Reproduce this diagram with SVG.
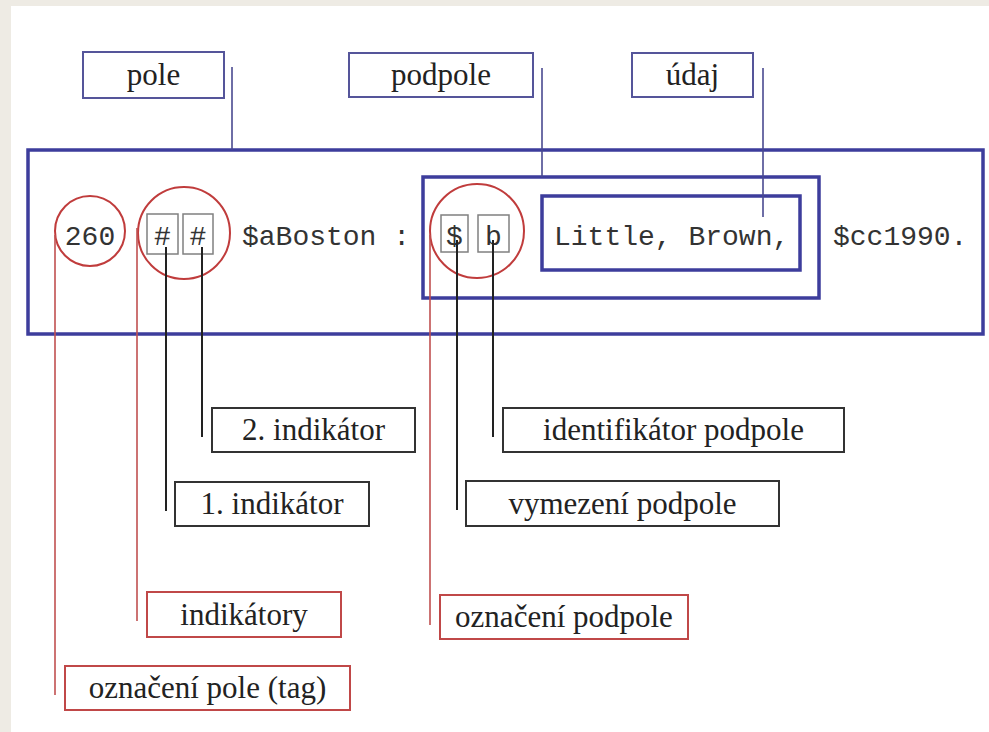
<svg xmlns="http://www.w3.org/2000/svg" width="989" height="732" viewBox="0 0 989 732">
<style>
.lbl{font-family:"Liberation Serif","Times New Roman",serif;font-size:31px;fill:#222;text-anchor:middle}
.mono{font-family:"Liberation Mono","Courier New",monospace;font-size:28px;fill:#333}
.bb{fill:#fff;stroke:#55559a;stroke-width:2}
.kb{fill:#fff;stroke:#333;stroke-width:2}
.rb{fill:#fff;stroke:#c04848;stroke-width:2}
.big{fill:none;stroke:#3d3d9c;stroke-width:3.5}
.sq{fill:none;stroke:#808080;stroke-width:1.5}
.circ{fill:none;stroke:#c03c3c;stroke-width:2}
.lb{stroke:#4a4a90;stroke-width:1.6}
.lk{stroke:#222;stroke-width:2}
.lr{stroke:#c05050;stroke-width:1.6}
</style>
<rect x="0" y="0" width="989" height="732" fill="#eeebe4"/>
<rect x="11" y="6" width="978" height="726" fill="#fff"/>

<g id="record">
<rect class="big" x="28" y="150" width="955" height="184"/>
<text class="mono" x="90" y="245" text-anchor="middle">260</text>
<rect class="sq" x="147" y="214" width="31" height="40"/>
<rect class="sq" x="183" y="214" width="30" height="40"/>
<text class="mono" x="162.5" y="245" text-anchor="middle">#</text>
<text class="mono" x="198" y="245" text-anchor="middle">#</text>
<text class="mono" x="242" y="245">$aBoston :</text>
<text class="mono" x="833" y="245">$cc1990.</text>
</g>
<g id="subfield">
<rect class="big" x="423" y="177" width="396" height="121"/>
<rect class="sq" x="441" y="215" width="27" height="37"/>
<rect class="sq" x="478" y="215" width="31" height="37"/>
<text class="mono" x="454.5" y="245" text-anchor="middle">$</text>
<text class="mono" x="493.5" y="245" text-anchor="middle">b</text>
</g>
<g id="data">
<rect class="big" x="542" y="196" width="258" height="74"/>
<text class="mono" x="554" y="245">Little, Brown,</text>
</g>
<g id="circles">
<circle class="circ" cx="90" cy="231" r="35"/>
<circle class="circ" cx="184" cy="233" r="46"/>
<circle class="circ" cx="477" cy="231" r="47"/>
</g>

<g id="connectors">
<line class="lb" x1="232" y1="67" x2="232" y2="150"/>
<line class="lb" x1="542" y1="68" x2="542" y2="177"/>
<line class="lb" x1="763" y1="68" x2="763" y2="217"/>
<line class="lk" x1="166" y1="247" x2="166" y2="511"/>
<line class="lk" x1="202" y1="247" x2="202" y2="437"/>
<line class="lk" x1="457" y1="240" x2="457" y2="510"/>
<line class="lk" x1="493" y1="240" x2="493" y2="437"/>
<line class="lr" x1="55" y1="235" x2="55" y2="695"/>
<line class="lr" x1="137" y1="228" x2="137" y2="621"/>
<line class="lr" x1="430" y1="235" x2="430" y2="625"/>
</g>

<g id="pole"><rect class="bb" x="83" y="52" width="141" height="46"/><text class="lbl" x="153.5" y="85">pole</text></g>
<g id="podpole"><rect class="bb" x="349" y="53" width="184" height="44"/><text class="lbl" x="441" y="85">podpole</text></g>
<g id="udaj"><rect class="bb" x="632" y="53" width="121" height="44"/><text class="lbl" x="692.5" y="85">údaj</text></g>
<g id="ind2"><rect class="kb" x="212" y="408" width="203" height="44"/><text class="lbl" x="313.5" y="440">2. indikátor</text></g>
<g id="ind1"><rect class="kb" x="175" y="482" width="194" height="44"/><text class="lbl" x="272" y="514">1. indikátor</text></g>
<g id="ident"><rect class="kb" x="503" y="408" width="341" height="44"/><text class="lbl" x="673.5" y="440">identifikátor podpole</text></g>
<g id="vymez"><rect class="kb" x="466" y="481" width="313" height="45"/><text class="lbl" x="622.5" y="514">vymezení podpole</text></g>
<g id="indikatory"><rect class="rb" x="147" y="592" width="194" height="45"/><text class="lbl" x="244" y="625">indikátory</text></g>
<g id="oznpodpole"><rect class="rb" x="440" y="595" width="248" height="44"/><text class="lbl" x="564" y="627">označení podpole</text></g>
<g id="tag"><rect class="rb" x="65" y="666" width="285" height="44"/><text class="lbl" x="207.5" y="698">označení pole (tag)</text></g>
</svg>
